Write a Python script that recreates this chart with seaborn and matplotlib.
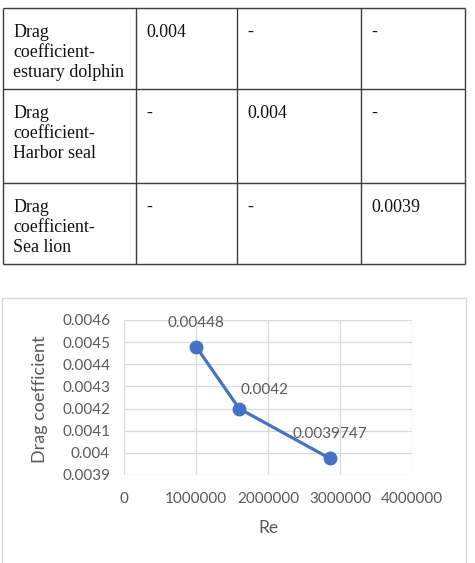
import matplotlib.pyplot as plt
import pandas as pd
import seaborn as sns

# table values
row_names = ["Drag\ncoefficient-\nestuary dolphin",
             "Drag\ncoefficient-\nHarbor seal",
             "Drag\ncoefficient-\nSea lion"]
cell_values = [["0.004", "-", "-"],
               ["-", "0.004", "-"],
               ["-", "-", "0.0039"]]

# chart values
reynolds = [1000000, 1600000, 2860000]
drag = [0.00448, 0.0042, 0.0039747]
point_labels = ["0.00448", "0.0042", "0.0039747"]
x_ticks = [0, 1000000, 2000000, 3000000, 4000000]
y_ticks = [0.0039, 0.004, 0.0041, 0.0042, 0.0043, 0.0044, 0.0045, 0.0046]

sns.set_theme(style="white")
plt.rcParams['font.family'] = ['Lato', 'DejaVu Sans']

W, H = 475, 563
fig = plt.figure(figsize=(W / 100, H / 100), dpi=100)

# background axes in pixel units for the table and the chart frame
bg = fig.add_axes([0, 0, 1, 1])
bg.set_xlim(0, W)
bg.set_ylim(H, 0)
bg.axis('off')

col_w = [133, 101, 124, 104]
row_h = [81, 94, 81]
x0, y0 = 3, 8
xs = [x0]
for w in col_w:
    xs.append(xs[-1] + w)
ys = [y0]
for h in row_h:
    ys.append(ys[-1] + h)
bg.vlines(xs, ys[0], ys[-1], color='#3c3c3c', lw=1)
bg.hlines(ys, xs[0], xs[-1], color='#3c3c3c', lw=1)

serif = ['Liberation Serif', 'DejaVu Serif']
for i, name in enumerate(row_names):
    texts = [name] + cell_values[i]
    for j, t in enumerate(texts):
        bg.text(xs[j] + 10, ys[i] + 16, t, family=serif, fontsize=12.9,
                va='top', ha='left', color='#111111', linespacing=1.24)

# chart frame
bg.add_patch(plt.Rectangle((2, 298), 464, 300, fill=False, ec='#d9d9d9', lw=1))

gray = '#595959'
ax = fig.add_axes([124 / W, (H - 475) / H, 288 / W, 155 / H])
df = pd.DataFrame({'Re': reynolds, 'Drag coefficient': drag})
sns.lineplot(data=df, x='Re', y='Drag coefficient', ax=ax, color='#4472C4',
             lw=2.3, marker='o', markersize=10, markeredgewidth=0)

ax.set_xlim(x_ticks[0], x_ticks[-1])
ax.set_ylim(y_ticks[0], y_ticks[-1])
ax.set_xticks(x_ticks)
ax.set_xticklabels([str(v) for v in x_ticks])
ax.set_yticks(y_ticks)
ax.set_yticklabels([f"{v:.4f}".rstrip('0') for v in y_ticks])
ax.grid(True, color='#d9d9d9', lw=0.9)
ax.set_axisbelow(True)
for s in ax.spines.values():
    s.set_visible(False)
ax.tick_params(axis='both', length=0, labelsize=11, labelcolor=gray)
ax.tick_params(axis='y', pad=10)
ax.tick_params(axis='x', pad=12)

ax.set_xlabel('Re', fontsize=12.5, color=gray, va='center')
ax.set_ylabel('Drag coefficient', fontsize=13, color=gray, va='center')
ax.xaxis.set_label_coords(0.5, -0.342)
ax.yaxis.set_label_coords(-0.292, 0.49)

label_offsets = [(0, 24), (25, 19), (0, 24)]
for xv, yv, lab, off in zip(reynolds, drag, point_labels, label_offsets):
    ax.annotate(lab, (xv, yv), xytext=off, textcoords='offset pixels',
                ha='center', va='center', fontsize=11, color=gray)

fig.savefig('out.png', dpi=100, facecolor='white')
